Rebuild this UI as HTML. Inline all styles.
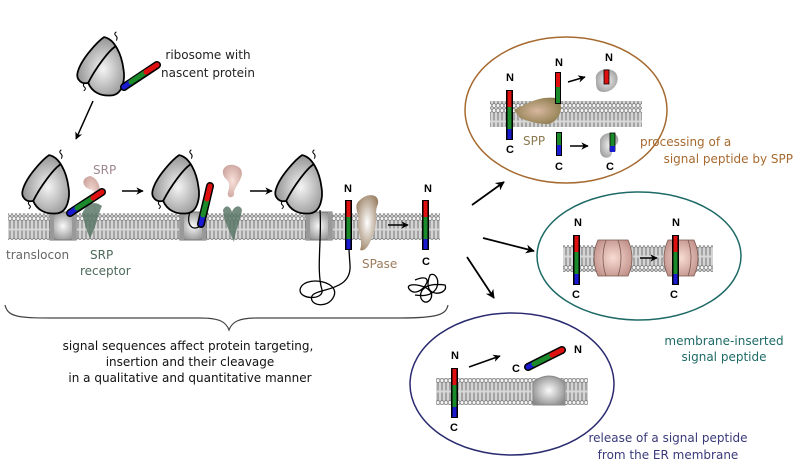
<!DOCTYPE html>
<html><head><meta charset="utf-8"><style>
html,body{margin:0;padding:0;background:#fff}
svg{display:block}
text{font-family:"DejaVu Sans","Liberation Sans",sans-serif;font-size:12px}
.b{font-family:"Liberation Sans",sans-serif;font-weight:bold;font-size:11px;fill:#000}
</style></head><body>
<svg width="800" height="469" viewBox="0 0 800 469" xmlns="http://www.w3.org/2000/svg">
<defs>
<pattern id="mem" width="4" height="27" patternUnits="userSpaceOnUse">
<rect width="4" height="27" fill="#d8d8d8"/>
<circle cx="2" cy="2.5" r="1.9" fill="#f4f4f4" stroke="#777" stroke-width="0.7"/>
<circle cx="2" cy="24.5" r="1.9" fill="#f4f4f4" stroke="#777" stroke-width="0.7"/>
<path d="M1.3,4.5 L1.3,12.5 M2.7,4.5 L2.7,12.5 M1.3,14.5 L1.3,22.5 M2.7,14.5 L2.7,22.5" stroke="#888" stroke-width="0.7"/>
</pattern>
<radialGradient id="rib" cx="0.55" cy="0.55" r="0.6"><stop offset="0" stop-color="#f4f4f4"/><stop offset="1" stop-color="#8c8c8c"/></radialGradient>
<radialGradient id="tl" cx="0.5" cy="0.5" r="0.6"><stop offset="0" stop-color="#fafafa"/><stop offset="1" stop-color="#8a8a8a"/></radialGradient>
<radialGradient id="pink" cx="0.5" cy="0.5" r="0.6"><stop offset="0" stop-color="#f8dcd4"/><stop offset="1" stop-color="#c09088"/></radialGradient>
<radialGradient id="spp" cx="0.5" cy="0.5" r="0.6"><stop offset="0" stop-color="#d8b8a0"/><stop offset="1" stop-color="#8a7a4a"/></radialGradient>
<radialGradient id="spase" cx="0.5" cy="0.5" r="0.6"><stop offset="0" stop-color="#fff"/><stop offset="1" stop-color="#9a8064"/></radialGradient>
<radialGradient id="gr" cx="0.5" cy="0.5" r="0.6"><stop offset="0" stop-color="#eee"/><stop offset="1" stop-color="#999"/></radialGradient>
<marker id="ah" viewBox="0 0 10 10" refX="9" refY="5" markerWidth="5" markerHeight="5" orient="auto"><path d="M0,0 L10,5 L0,10 L3,5 Z" fill="#000"/></marker>
<g id="ribo" transform="scale(0.88)">
<path d="M8,-26 C2,-22 -18,-2 -22,14 C-24,22 -18,28 -10,26 C-6,36 4,42 18,40 C30,38 32,20 30,10 C28,-6 20,-24 8,-26 Z" fill="url(#rib)" stroke="#000" stroke-width="2"/>
<path d="M-10,26 C-2,10 14,-12 22,-16" fill="none" stroke="#000" stroke-width="2"/>
<path d="M22,-22 q2,-4 -1,-6 q-2,-2 1,-4" fill="none" stroke="#000" stroke-width="1.2"/>
<path d="M-14,26 q-3,3 0,5 q2,2 -1,4" fill="none" stroke="#000" stroke-width="1.2"/>
</g>
<g id="tloc">
<rect x="0" y="0" width="26" height="28" fill="url(#tl)" stroke="#777" stroke-width="1"/>
<rect x="0" y="0" width="4" height="28" fill="#999"/><rect x="22" y="0" width="4" height="28" fill="#999"/>
</g>
</defs>

<rect x="8" y="213" width="432" height="27" fill="url(#mem)"/>
<use href="#tloc" x="50" y="212"/>
<use href="#tloc" x="180" y="212"/>
<use href="#tloc" x="306" y="212"/>

<use href="#ribo" x="97" y="60"/>
<g stroke-linecap="round">
<line x1="124" y1="87" x2="157" y2="65" stroke="#000" stroke-width="8"/>
<line x1="124" y1="87" x2="131" y2="82" stroke="#1a1ad0" stroke-width="5"/>
<line x1="131" y1="82" x2="146" y2="72" stroke="#1a8a2a" stroke-width="5"/>
<line x1="146" y1="72" x2="157" y2="65" stroke="#e01010" stroke-width="5"/>
</g>
<text x="208" y="59" text-anchor="middle" fill="#222" font-size="11">ribosome with</text>
<text x="208" y="77" text-anchor="middle" fill="#222" font-size="11">nascent protein</text>
<line x1="93" y1="101" x2="76" y2="139" stroke="#000" stroke-width="1.5" marker-end="url(#ah)"/>

<use href="#ribo" x="42" y="178"/>
<path d="M94,200 C104,196 100,178 90,176 C80,178 82,188 92,190 C98,194 92,206 96,212 Z" fill="url(#pink)" opacity="0.85"/>
<path d="M82,214 C86,204 94,200 102,206 C98,214 96,228 90,238 C86,230 84,220 82,214 Z" fill="#5a7868" opacity="0.85"/>
<g stroke-linecap="round">
<line x1="70" y1="213" x2="102" y2="192" stroke="#000" stroke-width="8"/>
<line x1="70" y1="213" x2="77" y2="208" stroke="#1a1ad0" stroke-width="5"/>
<line x1="77" y1="208" x2="93" y2="198" stroke="#1a8a2a" stroke-width="5"/>
<line x1="93" y1="198" x2="102" y2="192" stroke="#e01010" stroke-width="5"/>
</g>
<text x="93" y="174" fill="#a08890">SRP</text>
<text x="6" y="259" fill="#666">translocon</text>
<text x="90" y="259" fill="#4d6a5c">SRP</text>
<text x="80" y="275" fill="#4d6a5c">receptor</text>
<line x1="122" y1="191" x2="143" y2="191" stroke="#000" stroke-width="1.5" marker-end="url(#ah)"/>

<use href="#ribo" x="172" y="178"/>
<path d="M225,178 C218,168 230,160 240,168 C246,176 236,184 234,192 C236,198 226,200 228,192 C230,186 230,182 225,178 Z" fill="url(#pink)" opacity="0.85"/>
<path d="M223,210 C226,204 230,206 232,212 C234,206 240,204 242,210 C240,222 236,228 234,242 C230,232 224,222 223,210 Z" fill="#5a7868" opacity="0.85"/>
<path d="M200,226 C192,232 186,224 190,212" fill="none" stroke="#000" stroke-width="1.2"/>
<g stroke-linecap="round">
<line x1="201" y1="224" x2="210" y2="186" stroke="#000" stroke-width="8"/>
<line x1="201" y1="224" x2="203" y2="215" stroke="#1a1ad0" stroke-width="5"/>
<line x1="203" y1="215" x2="207" y2="199" stroke="#1a8a2a" stroke-width="5"/>
<line x1="207" y1="199" x2="210" y2="186" stroke="#e01010" stroke-width="5"/>
</g>
<line x1="250" y1="191" x2="272" y2="191" stroke="#000" stroke-width="1.5" marker-end="url(#ah)"/>

<use href="#ribo" x="295" y="178"/>
<path d="M320,210 C322,240 316,270 322,290 C324,300 300,300 300,290 C302,275 340,280 334,296 C328,310 308,305 312,296 C316,288 352,292 350,265 L349,250" fill="none" stroke="#000" stroke-width="1.3"/>
<rect x="345" y="200" width="7" height="50" fill="#000"/>
<rect x="346.5" y="201" width="4" height="16" fill="#e01010"/>
<rect x="346.5" y="217" width="4" height="22" fill="#1a8a2a"/>
<rect x="346.5" y="239" width="4" height="10" fill="#1a1ad0"/>
<text class="b" x="344" y="192">N</text>
<path d="M360,200 C368,192 380,194 378,204 C374,212 378,220 374,232 C370,244 366,252 360,250 C364,240 356,230 358,222 C360,214 352,206 360,200 Z" fill="url(#spase)"/>
<text x="362" y="268" fill="#9c7c5c">SPase</text>
<line x1="388" y1="225" x2="408" y2="225" stroke="#000" stroke-width="1.5" marker-end="url(#ah)"/>
<rect x="422" y="200" width="7" height="50" fill="#000"/>
<rect x="423.5" y="201" width="4" height="16" fill="#e01010"/>
<rect x="423.5" y="217" width="4" height="22" fill="#1a8a2a"/>
<rect x="423.5" y="239" width="4" height="10" fill="#1a1ad0"/>
<text class="b" x="424" y="192">N</text>
<text class="b" x="422" y="265">C</text>
<path d="M415,280 C440,270 420,300 410,290 C400,280 440,285 430,300 C420,310 410,280 445,285 C450,295 420,300 430,275 C440,270 445,300 415,295" fill="none" stroke="#000" stroke-width="1.3"/>

<path d="M5,305 C8,318 20,318 60,318 L200,318 C220,318 226,322 229,330 C232,322 238,318 258,318 L400,318 C440,318 446,314 448,305" fill="none" stroke="#444" stroke-width="1.2"/>
<text x="188" y="350" text-anchor="middle" fill="#111">signal sequences affect protein targeting,</text>
<text x="190" y="366" text-anchor="middle" fill="#111">insertion and their cleavage</text>
<text x="190" y="382" text-anchor="middle" fill="#111">in a qualitative and quantitative manner</text>

<line x1="472" y1="205" x2="504" y2="182" stroke="#000" stroke-width="1.8" marker-end="url(#ah)"/>
<line x1="483" y1="238" x2="534" y2="251" stroke="#000" stroke-width="1.8" marker-end="url(#ah)"/>
<line x1="467" y1="257" x2="494" y2="298" stroke="#000" stroke-width="1.8" marker-end="url(#ah)"/>

<ellipse cx="566" cy="110" rx="101" ry="73" fill="#fff" stroke="#a66a30" stroke-width="1.5"/>
<rect x="490" y="101" width="152" height="26" fill="url(#mem)"/>
<rect x="506" y="90" width="7" height="50" fill="#000"/>
<rect x="507.5" y="91" width="4" height="16" fill="#e01010"/>
<rect x="507.5" y="107" width="4" height="22" fill="#1a8a2a"/>
<rect x="507.5" y="129" width="4" height="10" fill="#1a1ad0"/>
<text class="b" x="506" y="81">N</text>
<text class="b" x="506" y="153">C</text>
<path d="M514,110 C530,102 540,96 556,98 C566,104 560,122 548,124 C538,124 530,122 520,118 Z" fill="url(#spp)"/>
<text x="523" y="145" fill="#8a7a50" font-size="13">SPP</text>
<rect x="555" y="72" width="6" height="32" fill="#000"/>
<rect x="556" y="73" width="4" height="14" fill="#e01010"/>
<rect x="556" y="87" width="4" height="16" fill="#1a8a2a"/>
<text class="b" x="555" y="66">N</text>
<line x1="568" y1="82" x2="585" y2="77" stroke="#000" stroke-width="1.5" marker-end="url(#ah)"/>
<path d="M596,80 C594,70 608,66 615,72 C622,80 614,92 604,92 C596,92 596,86 596,80 Z" fill="url(#gr)"/>
<rect x="604" y="70" width="5" height="14" fill="#e01010" stroke="#000" stroke-width="0.8"/>
<text class="b" x="605" y="61">N</text>
<rect x="556" y="132" width="6" height="24" fill="#000"/>
<rect x="557" y="133" width="4" height="12" fill="#1a8a2a"/>
<rect x="557" y="145" width="4" height="10" fill="#1a1ad0"/>
<text class="b" x="555" y="170">C</text>
<line x1="570" y1="146" x2="588" y2="146" stroke="#000" stroke-width="1.5" marker-end="url(#ah)"/>
<path d="M600,140 C602,132 616,130 618,138 C620,146 610,146 612,152 C612,160 600,160 600,150 Z" fill="url(#gr)"/>
<rect x="610" y="133" width="5" height="18" fill="#1a8a2a" stroke="#000" stroke-width="0.8"/>
<rect x="610" y="146" width="5" height="6" fill="#1a1ad0"/>
<text class="b" x="606" y="170">C</text>
<text x="640" y="146" fill="#a86a30">processing of a</text>
<text x="793" y="163" text-anchor="end" fill="#a86a30">signal peptide by SPP</text>

<ellipse cx="639" cy="256" rx="102" ry="64" fill="#fff" stroke="#1e6a66" stroke-width="1.5"/>
<rect x="563" y="245" width="150" height="27" fill="url(#mem)"/>
<path d="M598,240 L628,240 Q636,258 628,276 L598,276 Q590,258 598,240 Z" fill="url(#pink)" stroke="#7a5a50" stroke-width="0.8"/>
<path d="M606,240 Q600,258 606,276 M618,240 Q624,258 618,276" fill="none" stroke="#7a5a50" stroke-width="0.8"/>
<path d="M668,240 L694,240 Q702,258 694,276 L668,276 Q660,258 668,240 Z" fill="url(#pink)" stroke="#7a5a50" stroke-width="0.8"/>
<path d="M688,240 Q694,258 688,276" fill="none" stroke="#7a5a50" stroke-width="0.8"/>
<line x1="640" y1="258" x2="657" y2="258" stroke="#000" stroke-width="1.5" marker-end="url(#ah)"/>
<rect x="573" y="235" width="7" height="50" fill="#000"/>
<rect x="574.5" y="236" width="4" height="16" fill="#e01010"/>
<rect x="574.5" y="252" width="4" height="22" fill="#1a8a2a"/>
<rect x="574.5" y="274" width="4" height="10" fill="#1a1ad0"/>
<text class="b" x="574" y="226">N</text>
<text class="b" x="572" y="298">C</text>
<rect x="672" y="235" width="7" height="50" fill="#000"/>
<rect x="673.5" y="236" width="4" height="16" fill="#e01010"/>
<rect x="673.5" y="252" width="4" height="22" fill="#1a8a2a"/>
<rect x="673.5" y="274" width="4" height="10" fill="#1a1ad0"/>
<text class="b" x="672" y="226">N</text>
<text class="b" x="670" y="298">C</text>
<text x="724" y="345" text-anchor="middle" fill="#1e6a66">membrane-inserted</text>
<text x="724" y="361" text-anchor="middle" fill="#1e6a66">signal peptide</text>

<ellipse cx="512" cy="384" rx="102" ry="71" fill="#fff" stroke="#2a2a70" stroke-width="1.5"/>
<rect x="436" y="378" width="152" height="27" fill="url(#mem)"/>
<path d="M533,405 L533,382 Q549,370 565,382 L565,405 Z" fill="url(#tl)" stroke="#888" stroke-width="1"/>
<rect x="451" y="368" width="7" height="50" fill="#000"/>
<rect x="452.5" y="369" width="4" height="16" fill="#e01010"/>
<rect x="452.5" y="385" width="4" height="22" fill="#1a8a2a"/>
<rect x="452.5" y="407" width="4" height="10" fill="#1a1ad0"/>
<text class="b" x="451" y="359">N</text>
<text class="b" x="450" y="431">C</text>
<line x1="469" y1="367" x2="500" y2="356" stroke="#000" stroke-width="1.5" marker-end="url(#ah)"/>
<g stroke-linecap="round">
<line x1="528" y1="367" x2="562" y2="350" stroke="#000" stroke-width="8"/>
<line x1="528" y1="367" x2="534" y2="364" stroke="#1a1ad0" stroke-width="5"/>
<line x1="534" y1="364" x2="552" y2="355" stroke="#1a8a2a" stroke-width="5"/>
<line x1="552" y1="355" x2="562" y2="350" stroke="#e01010" stroke-width="5"/>
</g>
<text class="b" x="512" y="372">C</text>
<text class="b" x="574" y="353">N</text>
<text x="668" y="442" text-anchor="middle" fill="#3a3a7a">release of a signal peptide</text>
<text x="668" y="459" text-anchor="middle" fill="#3a3a7a">from the ER membrane</text>
</svg>
</body></html>
